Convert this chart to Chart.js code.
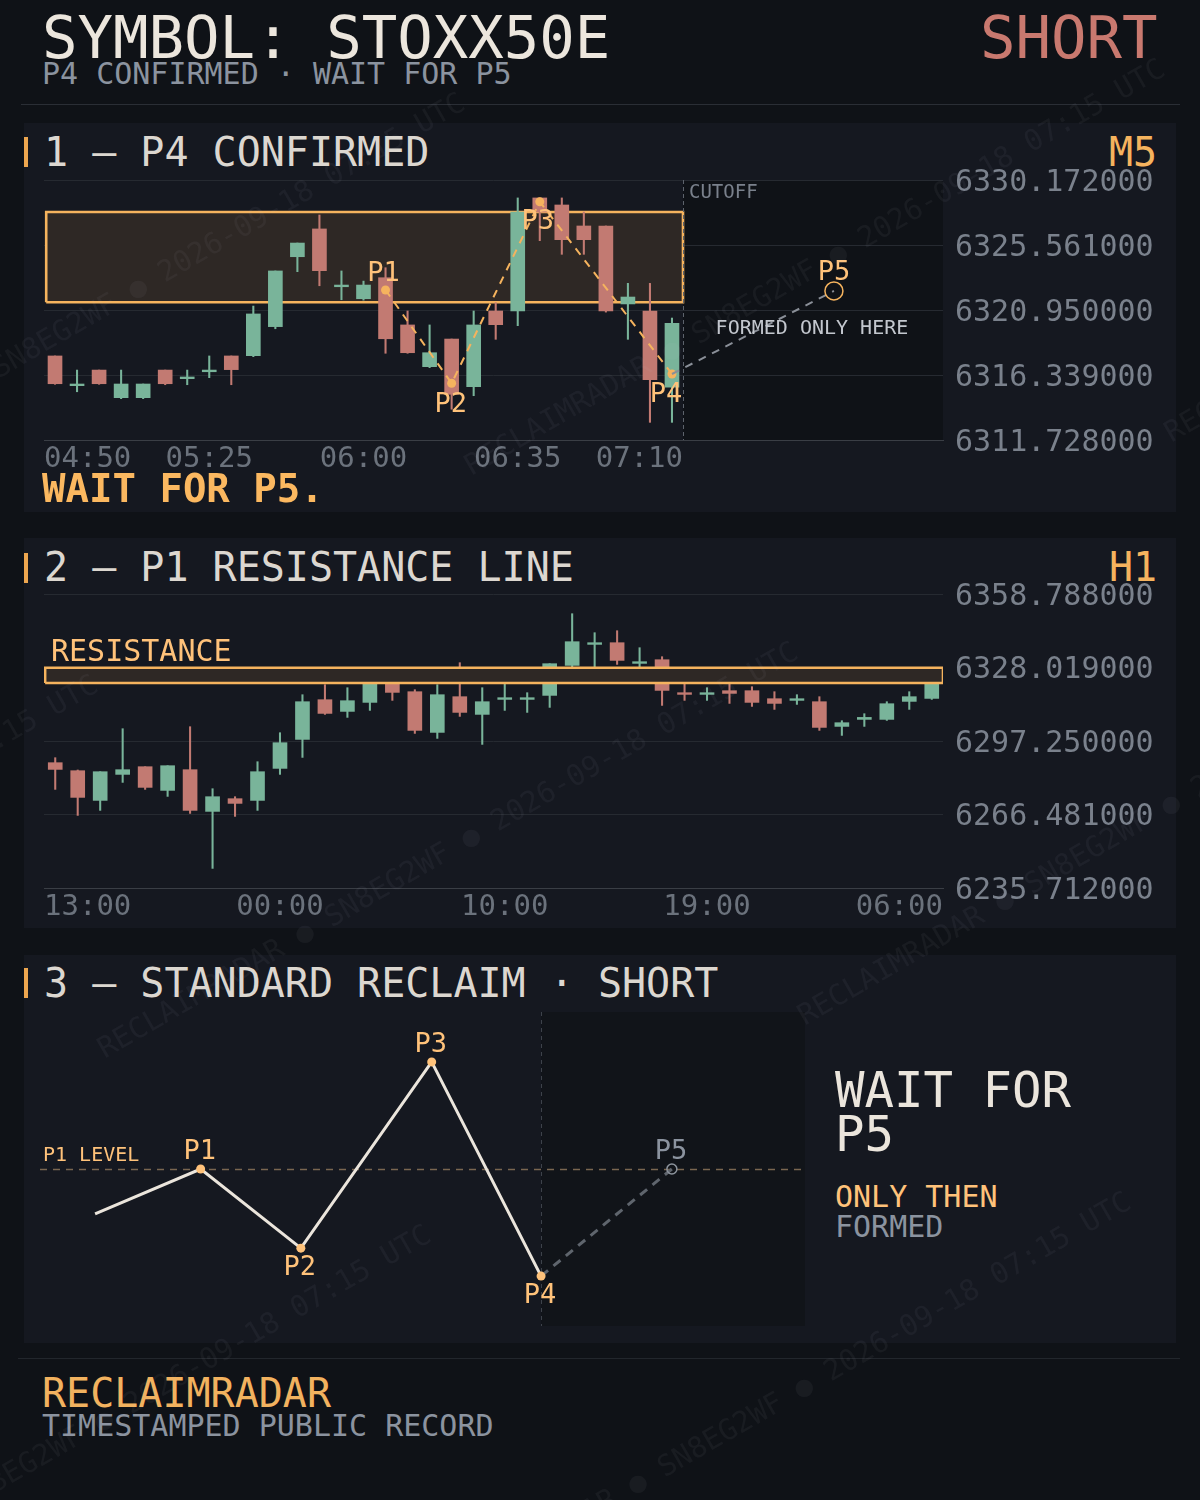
<!DOCTYPE html>
<html>
<head>
<meta charset="utf-8">
<script src="https://cdn.jsdelivr.net/npm/chart.js@4.4.1/dist/chart.umd.min.js"></script>
<style>
  html, body { margin: 0; padding: 0; }
  body { width: 1200px; height: 1500px; background: #0f1217; position: relative; overflow: hidden; font-family: "DejaVu Sans Mono", monospace; }
  .t { position: absolute; white-space: pre; line-height: 1; }
  .panel { position: absolute; left: 24px; width: 1152px; background: #151820; }
  .accent { position: absolute; left: 24px; width: 4px; height: 30px; background: #eda64f; }
  .rule { position: absolute; height: 1px; background: #2a2e35; }
  canvas { position: absolute; }
  .wm { position: absolute; white-space: nowrap; font-size: 29px; line-height: 29px; height: 29px; color: rgba(200, 206, 218, 0.055); transform-origin: 0 50%; transform: rotate(-30deg); pointer-events: none; z-index: 5; }
  .wm span { display: inline-block; width: 1232px; }
</style>
</head>
<body>

<div class="t" style="left:42px;top:8px;font-size:59px;color:#ece6dd">SYMBOL: STOXX50E</div>
<div class="t" style="left:980px;top:8px;font-size:59px;color:#c9796f">SHORT</div>
<div class="t" style="left:42px;top:59px;font-size:30px;color:#8b939f">P4 CONFIRMED · WAIT FOR P5</div>
<div class="rule" style="left:21px;top:104px;width:1159px"></div>

<div class="panel" style="top:123px;height:389px"></div>
<div class="accent" style="top:137px"></div>
<div class="t" style="left:44px;top:132px;font-size:40px;color:#dcd7d0">1 — P4 CONFIRMED</div>
<div class="t" style="left:1109px;top:132px;font-size:40px;color:#f5b35e">M5</div>
<canvas id="c1" width="1152" height="320" style="left:24px;top:150px"></canvas>
<div class="t" style="left:42px;top:469px;font-size:39px;font-weight:bold;color:#fbb860">WAIT FOR P5.</div>

<div class="panel" style="top:538px;height:390px"></div>
<div class="accent" style="top:553px"></div>
<div class="t" style="left:44px;top:547px;font-size:40px;color:#dcd7d0">2 — P1 RESISTANCE LINE</div>
<div class="t" style="left:1109px;top:547px;font-size:40px;color:#f5b35e">H1</div>
<canvas id="c2" width="1152" height="354" style="left:24px;top:564px"></canvas>
<div class="t" style="left:51px;top:636px;font-size:30px;color:#ffc27a">RESISTANCE</div>

<div class="panel" style="top:955px;height:388px"></div>
<div class="accent" style="top:968px"></div>
<div class="t" style="left:44px;top:963px;font-size:40px;color:#dcd7d0">3 — STANDARD RECLAIM · SHORT</div>
<canvas id="c3" width="765" height="314" style="left:40px;top:1012px"></canvas>
<div class="t" style="left:835px;top:1066px;font-size:49px;color:#ebe5dc">WAIT FOR</div>
<div class="t" style="left:835px;top:1110px;font-size:49px;color:#ebe5dc">P5</div>
<div class="t" style="left:835px;top:1182px;font-size:30px;color:#ffc27a">ONLY THEN</div>
<div class="t" style="left:835px;top:1212px;font-size:30px;color:#8b939f">FORMED</div>

<div class="rule" style="left:18px;top:1358px;width:1162px;background:#22262c"></div>
<div class="t" style="left:42px;top:1373px;font-size:40px;color:#f2b25f">RECLAIMRADAR</div>
<div class="t" style="left:42px;top:1411px;font-size:30px;color:#8b939f">TIMESTAMPED PUBLIC RECORD</div>

<div id="wm"></div>

<script>
// ---- panel 1: M5 candles ----
const m5Open  = [6317.69, 6315.58, 6316.69, 6314.73, 6314.73, 6316.69, 6316.08, 6316.57, 6317.69, 6317.71, 6319.77, 6324.73, 6326.70, 6322.60, 6321.75, 6323.24, 6319.89, 6316.93, 6318.89, 6315.51, 6320.88, 6320.88, 6328.90, 6328.40, 6326.91, 6326.91, 6321.38, 6320.88, 6315.47];
const m5High  = [6317.69, 6316.69, 6316.69, 6316.69, 6315.70, 6316.69, 6316.69, 6317.69, 6317.69, 6321.23, 6323.72, 6325.70, 6327.69, 6323.72, 6323.00, 6323.95, 6320.88, 6319.89, 6318.89, 6320.88, 6321.47, 6328.90, 6328.90, 6328.90, 6327.90, 6326.91, 6322.84, 6322.84, 6320.38];
const m5Low   = [6315.68, 6315.15, 6315.68, 6314.66, 6314.66, 6315.65, 6315.65, 6316.15, 6315.65, 6317.64, 6319.62, 6323.67, 6322.67, 6321.68, 6321.65, 6317.88, 6317.88, 6316.86, 6313.91, 6314.87, 6318.87, 6319.84, 6325.87, 6324.90, 6324.90, 6320.80, 6318.87, 6312.98, 6312.98];
const m5Close = [6315.72, 6315.70, 6315.72, 6315.70, 6315.70, 6315.72, 6316.20, 6316.69, 6316.72, 6320.67, 6323.72, 6325.70, 6323.74, 6322.72, 6322.72, 6318.91, 6317.92, 6317.92, 6314.97, 6319.89, 6319.91, 6327.90, 6327.90, 6325.94, 6325.94, 6320.88, 6321.87, 6316.01, 6320.01];
const m5Ticks = [6311.728, 6316.339, 6320.950, 6325.561, 6330.172];
const m5TimeIdx = [0, 7, 14, 21, 28];
const m5TimeLabels = ['04:50', '05:25', '06:00', '06:35', '07:10'];
const m5Cutoff = 28.5;
const m5PivotNames = ['P1', 'P2', 'P3', 'P4'];
const m5PivotX = [15, 18, 22, 28];
const m5PivotY = [6322.37, 6315.75, 6328.63, 6316.41];
const m5P5 = [35.35, 6322.30];

// ---- panel 2: H1 candles ----
const h1Open  = [6288.17, 6284.82, 6272.38, 6283.27, 6286.49, 6276.57, 6285.24, 6267.78, 6273.10, 6272.38, 6285.78, 6297.92, 6314.54, 6309.64, 6313.41, 6321.24, 6317.89, 6300.85, 6315.80, 6308.39, 6314.66, 6314.66, 6316.34, 6328.90, 6337.69, 6338.40, 6329.74, 6331.28, 6317.47, 6316.76, 6318.31, 6318.31, 6314.96, 6314.25, 6313.70, 6303.36, 6306.29, 6306.29, 6313.83, 6315.08];
const h1High  = [6290.26, 6285.11, 6284.40, 6302.40, 6286.49, 6286.91, 6303.24, 6277.28, 6273.93, 6288.58, 6300.72, 6316.63, 6320.82, 6319.56, 6322.07, 6323.33, 6318.73, 6320.82, 6330.03, 6319.56, 6324.59, 6317.47, 6329.61, 6350.54, 6342.59, 6343.42, 6336.31, 6332.54, 6321.36, 6319.56, 6321.36, 6319.98, 6317.89, 6316.63, 6315.80, 6305.75, 6308.68, 6313.70, 6317.89, 6327.52];
const h1Low   = [6276.99, 6266.10, 6268.20, 6279.92, 6276.99, 6274.06, 6266.94, 6243.92, 6265.69, 6268.20, 6283.27, 6290.38, 6308.39, 6307.13, 6310.06, 6314.25, 6300.43, 6298.34, 6307.55, 6295.83, 6310.06, 6309.22, 6311.32, 6322.20, 6325.13, 6329.32, 6324.29, 6312.15, 6314.25, 6314.25, 6312.99, 6311.73, 6310.48, 6312.57, 6301.69, 6299.59, 6303.36, 6305.87, 6310.48, 6314.66];
const h1Close = [6285.36, 6273.64, 6284.40, 6285.24, 6277.83, 6286.91, 6268.20, 6273.93, 6271.13, 6284.40, 6296.54, 6313.70, 6308.80, 6314.12, 6321.24, 6317.60, 6301.69, 6316.63, 6309.22, 6313.70, 6315.38, 6315.38, 6329.61, 6338.82, 6338.40, 6330.99, 6330.45, 6318.43, 6316.76, 6317.47, 6317.18, 6313.41, 6312.99, 6314.96, 6302.94, 6304.91, 6307.13, 6312.86, 6315.80, 6322.91];
const h1Ticks = [6235.712, 6266.481, 6297.250, 6328.019, 6358.788];
const h1TimeIdx = [0, 10, 20, 29, 39];
const h1TimeLabels = ['13:00', '00:00', '10:00', '19:00', '06:00'];

// resistance zone (same level on both timeframes)
const zoneLow = 6321.5;
const zoneHigh = 6327.9;

// ---- panel 3: schematic ----
const schemNames = ['', 'P1', 'P2', 'P3', 'P4'];
const schemX = [0.72, 2.10, 3.41, 5.12, 6.55];
const schemY = [35.7, 50.0, 24.8, 84.1, 15.9];
const schemP5 = [8.26, 50.0];

const GREEN = '#79b49a';
const RED = '#c27a72';
const ORANGE = '#f5b35e';
const LABEL = '#ffc27a';
const FONT = '"DejaVu Sans Mono", monospace';

function candleSets(o, h, l, c) {
  const col = o.map((v, i) => (c[i] >= v ? GREEN : RED));
  return [
    { type: 'bar', data: o.map((v, i) => ({ x: i, y: [l[i], h[i]] })), backgroundColor: col, barThickness: 1.4, grouped: false, order: 6 },
    { type: 'bar', data: o.map((v, i) => ({ x: i, y: [v, c[i]] })), backgroundColor: col, barThickness: 14, grouped: false, order: 5 }
  ];
}

function zoneSet(x0, x1, order) {
  return {
    type: 'line',
    data: [{ x: x0, y: zoneLow }, { x: x0, y: zoneHigh }, { x: x1, y: zoneHigh }, { x: x1, y: zoneLow }, { x: x0, y: zoneLow }],
    fill: 'shape', backgroundColor: '#2e2825', borderColor: ORANGE, borderWidth: 2.6,
    pointRadius: 0, tension: 0, order: order
  };
}

function drawTimes(chart, idx, labels, rightLimit) {
  const { ctx, chartArea: a, scales: { x } } = chart;
  ctx.save();
  ctx.font = '29px ' + FONT;
  ctx.fillStyle = '#6b727c';
  ctx.textBaseline = 'middle';
  idx.forEach((k, i) => {
    const w = ctx.measureText(labels[i]).width;
    let px = x.getPixelForValue(k) - w / 2;
    px = Math.max(a.left, Math.min(px, rightLimit - w));
    ctx.fillText(labels[i], px, a.bottom + 19);
  });
  ctx.restore();
}

function label(ctx, text, x, y, size, color, align) {
  ctx.font = size + 'px ' + FONT;
  ctx.fillStyle = color;
  ctx.textAlign = align || 'center';
  ctx.textBaseline = 'middle';
  ctx.fillText(text, x, y + 2);
}

function yAxis(ticks) {
  return {
    position: 'right', min: ticks[0], max: ticks[ticks.length - 1], beginAtZero: false,
    afterBuildTicks: s => { s.ticks = ticks.map(v => ({ value: v })); },
    afterFit: s => { s.width = 233; },
    grid: { color: '#262a31', drawTicks: false },
    border: { display: false },
    ticks: { color: '#7a818c', padding: 12, labelOffset: 3, font: { family: FONT, size: 30 }, callback: v => Number(v).toFixed(6) }
  };
}

function xAxis(max) {
  return {
    type: 'linear', min: -0.5, max: max, offset: false,
    grid: { display: false, drawTicks: false },
    border: { display: true, color: '#3a3e45' },
    ticks: { display: false },
    afterFit: s => { s.height = 0; }
  };
}

// panel 1 decorations
const deco1 = {
  id: 'deco1',
  beforeDraw(chart) {
    const { ctx, chartArea: a, scales: { x } } = chart;
    const xc = x.getPixelForValue(m5Cutoff);
    ctx.save();
    ctx.fillStyle = '#0f1217';
    ctx.fillRect(xc, a.top, a.right - xc, a.bottom - a.top);
    ctx.restore();
  },
  afterDatasetsDraw(chart) {
    const { ctx, chartArea: a, scales: { x, y } } = chart;
    const xc = x.getPixelForValue(m5Cutoff);
    ctx.save();
    ctx.strokeStyle = '#5d636c';
    ctx.lineWidth = 1;
    ctx.setLineDash([4, 3]);
    ctx.beginPath();
    ctx.moveTo(Math.round(xc) + 0.5, a.top);
    ctx.lineTo(Math.round(xc) + 0.5, a.bottom);
    ctx.stroke();
    ctx.setLineDash([]);
    label(ctx, 'CUTOFF', xc + 6, a.top + 11, 19, '#7a818c', 'left');
    const offs = [[-2, -18], [-1, 20], [-2, 18], [-6, 19]];
    m5PivotNames.forEach((n, i) => {
      const px = x.getPixelForValue(m5PivotX[i]);
      const py = y.getPixelForValue(m5PivotY[i]);
      label(ctx, n, px + offs[i][0], py + offs[i][1], 27, LABEL);
    });
    const p5x = x.getPixelForValue(m5P5[0]);
    const p5y = y.getPixelForValue(m5P5[1]);
    label(ctx, 'P5', p5x, p5y - 20, 27, LABEL);
    label(ctx, 'FORMED ONLY HERE', p5x - 22, p5y + 36, 20, '#c3c7ce');
    ctx.restore();
  },
  afterDraw(chart) {
    drawTimes(chart, m5TimeIdx, m5TimeLabels, chart.scales.x.getPixelForValue(m5Cutoff));
  }
};

new Chart(document.getElementById('c1'), {
  type: 'bar',
  data: {
    datasets: [
      zoneSet(-0.4, m5Cutoff, 10),
      ...candleSets(m5Open, m5High, m5Low, m5Close),
      {
        type: 'line', data: m5PivotX.map((v, i) => ({ x: v, y: m5PivotY[i] })),
        borderColor: ORANGE, borderWidth: 2, borderDash: [8, 7], tension: 0, fill: false,
        pointRadius: 4.5, pointBackgroundColor: ORANGE, pointBorderWidth: 0, order: 2
      },
      {
        type: 'line', data: [{ x: m5PivotX[3], y: m5PivotY[3] }, { x: m5P5[0], y: m5P5[1] }],
        borderColor: '#8a8f98', borderWidth: 2, borderDash: [8, 7], tension: 0, fill: false,
        pointRadius: [0, 9], pointBackgroundColor: 'rgba(0,0,0,0)', pointBorderColor: ORANGE, pointBorderWidth: 1.5, order: 1
      }
    ]
  },
  options: {
    responsive: false, animation: false,
    layout: { padding: { left: 20, top: 30, right: 0, bottom: 30 } },
    plugins: { legend: { display: false }, tooltip: { enabled: false } },
    scales: { x: xAxis(40.3), y: yAxis(m5Ticks) }
  },
  plugins: [deco1]
});

// panel 2
new Chart(document.getElementById('c2'), {
  type: 'bar',
  data: {
    datasets: [
      ...candleSets(h1Open, h1High, h1Low, h1Close),
      zoneSet(-0.45, 39.5, 1)
    ]
  },
  options: {
    responsive: false, animation: false,
    layout: { padding: { left: 20, top: 30, right: 0, bottom: 30 } },
    plugins: { legend: { display: false }, tooltip: { enabled: false } },
    scales: { x: xAxis(39.5), y: yAxis(h1Ticks) }
  },
  plugins: [{
    id: 'deco2',
    afterDraw(chart) { drawTimes(chart, h1TimeIdx, h1TimeLabels, chart.chartArea.right); }
  }]
});

// panel 3
const deco3 = {
  id: 'deco3',
  beforeDraw(chart) {
    const { ctx, chartArea: a, scales: { x } } = chart;
    const x4 = x.getPixelForValue(schemX[4]);
    ctx.save();
    ctx.fillStyle = '#111419';
    ctx.fillRect(x4, a.top, a.right - x4, a.bottom - a.top);
    ctx.restore();
  },
  beforeDatasetsDraw(chart) {
    const { ctx, chartArea: a, scales: { x, y } } = chart;
    const x4 = Math.round(x.getPixelForValue(schemX[4])) + 0.5;
    const y1 = Math.round(y.getPixelForValue(schemY[1])) + 0.5;
    ctx.save();
    ctx.lineWidth = 1;
    ctx.strokeStyle = '#3d424a';
    ctx.setLineDash([4, 4]);
    ctx.beginPath(); ctx.moveTo(x4, a.top); ctx.lineTo(x4, a.bottom); ctx.stroke();
    ctx.strokeStyle = '#7a6650';
    ctx.lineWidth = 1.5;
    ctx.setLineDash([7, 6]);
    ctx.beginPath(); ctx.moveTo(a.left, y1); ctx.lineTo(a.right, y1); ctx.stroke();
    ctx.setLineDash([]);
    label(ctx, 'P1 LEVEL', a.left + 3, y1 - 16, 20, LABEL, 'left');
    ctx.restore();
  },
  afterDatasetsDraw(chart) {
    const { ctx, scales: { x, y } } = chart;
    ctx.save();
    const offs = [0, -19, 18, -19, 18];
    schemNames.forEach((n, i) => {
      if (!n) return;
      label(ctx, n, x.getPixelForValue(schemX[i]) - 1, y.getPixelForValue(schemY[i]) + offs[i], 27, LABEL);
    });
    label(ctx, 'P5', x.getPixelForValue(schemP5[0]) - 1, y.getPixelForValue(schemP5[1]) - 19, 27, '#8b939f');
    ctx.restore();
  }
};

new Chart(document.getElementById('c3'), {
  type: 'line',
  data: {
    datasets: [
      {
        data: [{ x: schemX[4], y: schemY[4] }, { x: schemP5[0], y: schemP5[1] }],
        borderColor: '#5f656d', borderWidth: 3, borderDash: [9, 7], tension: 0,
        pointRadius: [0, 5], pointBackgroundColor: 'rgba(0,0,0,0)', pointBorderColor: '#8d949d', pointBorderWidth: 1.5, order: 2
      },
      {
        data: schemX.map((v, i) => ({ x: v, y: schemY[i] })),
        borderColor: '#ebe5dc', borderWidth: 3, tension: 0,
        pointRadius: [0, 4.5, 4.5, 4.5, 4.5], pointBackgroundColor: LABEL, pointBorderWidth: 0, order: 1
      }
    ]
  },
  options: {
    responsive: false, animation: false,
    layout: { padding: 0, autoPadding: false },
    plugins: { legend: { display: false }, tooltip: { enabled: false } },
    scales: {
      x: { type: 'linear', min: 0, max: 10, display: false },
      y: { min: 0, max: 100, display: false }
    }
  },
  plugins: [deco3]
});

// faint diagonal watermark
(function () {
  const host = document.getElementById('wm');
  const text = 'RECLAIMRADAR ● SN8EG2WF ● 2026-09-18 07:15 UTC';
  const tan = Math.tan(Math.PI / 6);
  for (let i = 0; i < 5; i++) {
    let s = ((-233 + 700 * i) % 1067 + 1067) % 1067 - 2 * 1067;
    const y = 245 + 371 * (i - 1) - (s - 853) * tan;
    const d = document.createElement('div');
    d.className = 'wm';
    d.style.left = s + 'px';
    d.style.top = (y - 14.5) + 'px';
    for (let k = 0; k < 5; k++) {
      const sp = document.createElement('span');
      sp.textContent = text;
      d.appendChild(sp);
    }
    host.appendChild(d);
  }
})();
</script>
</body>
</html>
